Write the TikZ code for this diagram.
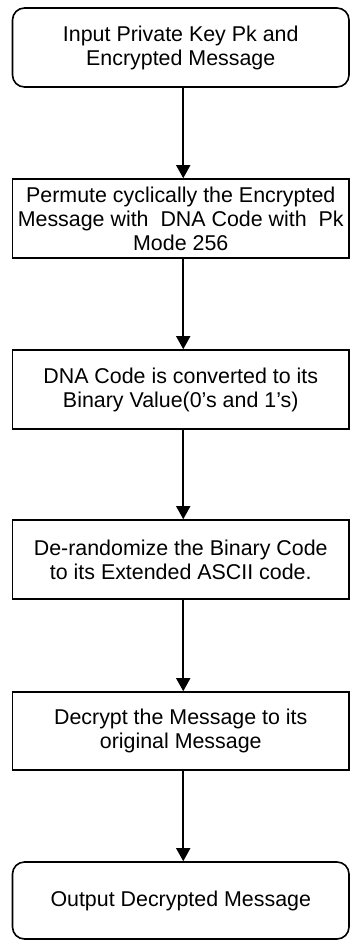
\documentclass[tikz,border=0pt]{standalone}
\usepackage{fontspec}
\setmainfont{Liberation Sans}
\usetikzlibrary{arrows.meta}
\begin{document}
\begin{tikzpicture}[x=1pt,y=-1pt,
  box/.style={draw=black, line width=1.6pt, minimum width=336.5pt, align=center,
    font=\fontsize{21.4}{24}\selectfont, inner sep=0pt},
  rbox/.style={box, rounded corners=12pt},
  flow/.style={line width=1.6pt, -{Triangle[width=14pt,length=13pt]}}]
\useasboundingbox (0,0) rectangle (350,940);
\node[rbox, minimum height=79pt] (n1) at (180.75,47.5) {Input Private Key Pk and\\Encrypted Message};
\node[box, minimum height=79pt] (n2) at (180.75,218.5) {Permute cyclically the Encrypted\\Message with\ \ DNA Code with\ \ Pk\\Mode 256};
\node[box, minimum height=79pt] (n3) at (180.75,389.5) {DNA Code is converted to its\\Binary Value(0’s and 1’s)};
\node[box, minimum height=79pt] (n4) at (180.75,559.5) {De-randomize the Binary Code\\to its Extended ASCII code.};
\node[box, minimum height=78pt] (n5) at (180.75,731) {Decrypt the Message to its\\original Message};
\node[rbox, minimum height=77pt] (n6) at (180.75,900.5) {Output Decrypted Message};
\foreach \a/\b in {n1/n2,n2/n3,n3/n4,n4/n5,n5/n6}
  \draw[flow] ([xshift=2.5pt]\a.south) -- ([xshift=2.5pt]\b.north);
\end{tikzpicture}
\end{document}
